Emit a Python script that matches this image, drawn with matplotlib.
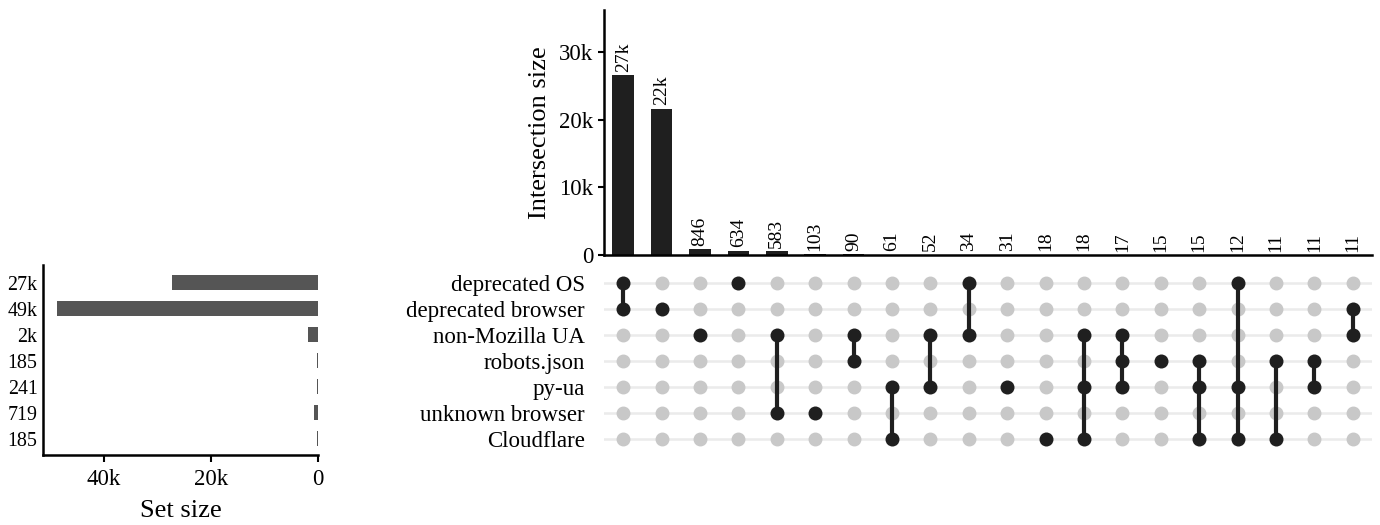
import matplotlib
matplotlib.use('Agg')
import matplotlib.pyplot as plt
from matplotlib.ticker import FuncFormatter

plt.rcParams['font.family'] = ['Liberation Serif', 'DejaVu Serif']

# sets (top to bottom) and their sizes
set_names = ['deprecated OS', 'deprecated browser', 'non-Mozilla UA', 'robots.json',
             'py-ua', 'unknown browser', 'Cloudflare']
set_sizes = [27300, 48800, 1950, 185, 241, 719, 185]

# intersections: size and member sets (row indices)
inter_sizes = [26600, 21700, 846, 634, 583, 103, 90, 61, 52, 34,
               31, 18, 18, 17, 15, 15, 12, 11, 11, 11]
inter_members = [[0, 1], [1], [2], [0], [2, 5], [5], [2, 3], [4, 6], [2, 4], [0, 2],
                 [4], [6], [2, 4, 6], [2, 3, 4], [3], [3, 4, 6], [0, 4, 6], [3, 6], [3, 4], [1, 2]]


def kfmt(v, pos=None):
    if v == 0:
        return '0'
    if abs(v) >= 1000:
        return '%dk' % round(v / 1000)
    return '%d' % v


dark = '#1f1f1f'
n_sets = len(set_names)
n_int = len(inter_sizes)
xs = list(range(n_int))

fig = plt.figure(figsize=(13.8, 5.25), dpi=100)
ax_bar = fig.add_axes([0.4377, 0.5143, 0.5565, 0.4667])
ax_mat = fig.add_axes([0.4377, 0.1333, 0.5565, 0.3619])
ax_set = fig.add_axes([0.0312, 0.1333, 0.1993, 0.3619])

# intersection size bars
ax_bar.bar(xs, inter_sizes, width=0.56, color=dark)
for x, v in zip(xs, inter_sizes):
    ax_bar.text(x, v + 500, kfmt(v), rotation=90, ha='center', va='bottom', fontsize=14)
ax_bar.set_xlim(-0.5, n_int - 0.5)
ax_bar.set_ylim(0, 36300)
ax_bar.set_yticks([0, 10000, 20000, 30000])
ax_bar.yaxis.set_major_formatter(FuncFormatter(kfmt))
ax_bar.set_xticks([])
ax_bar.set_ylabel('Intersection size', fontsize=19, labelpad=6)
ax_bar.tick_params(axis='y', labelsize=16.5, length=4, width=1.5)
for s in ['top', 'right']:
    ax_bar.spines[s].set_visible(False)
for s in ['left', 'bottom']:
    ax_bar.spines[s].set_linewidth(1.8)

# matrix
for r in range(n_sets):
    ax_mat.axhline(r, color='#ebebeb', lw=1.8, zorder=0)
    ax_mat.plot(xs, [r] * n_int, 'o', color='#c8c8c8', markersize=9, zorder=1)
for x, mem in zip(xs, inter_members):
    if len(mem) > 1:
        ax_mat.plot([x, x], [min(mem), max(mem)], color=dark, lw=3, zorder=2)
    ax_mat.plot([x] * len(mem), mem, 'o', color=dark, markersize=9, zorder=3)
ax_mat.set_xlim(-0.5, n_int - 0.5)
ax_mat.set_ylim(6.62, -0.69)
ax_mat.set_xticks([])
ax_mat.set_yticks(range(n_sets))
ax_mat.set_yticklabels(set_names, fontsize=16.5)
ax_mat.tick_params(axis='y', length=0, pad=14)
for s in ax_mat.spines.values():
    s.set_visible(False)

# set size bars
ax_set.barh(range(n_sets), set_sizes, height=0.58, color='#555555')
ax_set.set_xlim(51400, 0)
ax_set.set_ylim(6.62, -0.69)
ax_set.set_xticks([0, 20000, 40000])
ax_set.xaxis.set_major_formatter(FuncFormatter(kfmt))
ax_set.set_yticks(range(n_sets))
ax_set.set_yticklabels([kfmt(v) for v in set_sizes], fontsize=14.4)
ax_set.tick_params(axis='y', length=0, pad=4)
ax_set.tick_params(axis='x', labelsize=16.5, length=5, width=1.5, pad=5)
ax_set.set_xlabel('Set size', fontsize=19, labelpad=7)
for s in ['top', 'right']:
    ax_set.spines[s].set_visible(False)
for s in ['left', 'bottom']:
    ax_set.spines[s].set_linewidth(1.8)

fig.savefig('out.png', dpi=100)
